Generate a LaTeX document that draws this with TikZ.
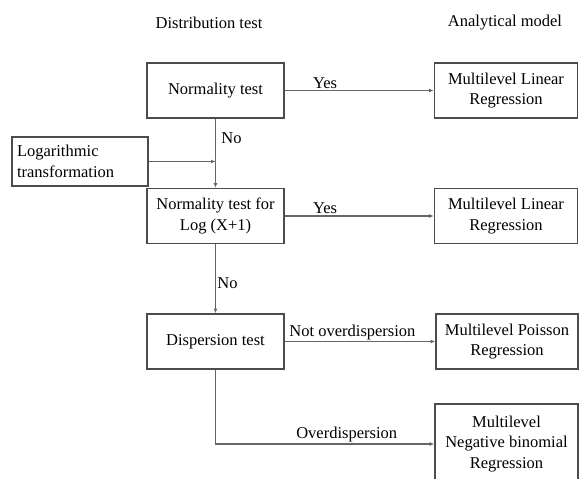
\documentclass[tikz,border=0pt]{standalone}
\usepackage{fontspec}
\setmainfont{Liberation Serif}
\usetikzlibrary{arrows.meta}
\begin{document}
\begin{tikzpicture}[x=1pt,y=-1pt,
	every node/.style={font=\fontsize{16.5}{20.5}\selectfont},
	box/.style={draw=black!70,line width=1.6pt,align=center,inner sep=2pt},
	testbox/.style={box,minimum width=137pt,minimum height=55pt},
	modelbox/.style={box,minimum width=143pt,minimum height=55pt},
	conn/.style={draw=black!60,line width=1.8pt,-{Latex[length=4.5pt,width=4pt]}},
	lbl/.style={inner sep=1pt}]
		%
		\useasboundingbox (0,0) rectangle (579,479);
		%
		\node (hdist) at (209,23) {Distribution test};
		\node (hmod) at (505,23) {Analytical model};
		%
		\node[testbox] (norm) at (215.5,90.5) {Normality test};
		\node[testbox] (lognorm) at (215.5,216) {Normality test for\\Log (X+1)};
		\node[testbox] (disp) at (215.5,341.5) {Dispersion test};
		\node[box,align=left,minimum width=136pt,minimum height=49pt,text width=126pt] (logt) at (80,161.5) {Logarithmic\\transformation};
		%
		\node[modelbox] (lin1) at (506,90.5) {Multilevel Linear\\Regression};
		\node[modelbox] (lin2) at (506,216) {Multilevel Linear\\Regression};
		\node[modelbox,minimum width=142pt] (pois) at (507,341.5) {Multilevel Poisson\\Regression};
		\node[modelbox,minimum height=80pt] (negb) at (506.5,444) {Multilevel\\Negative binomial\\Regression};
		%
		\coordinate (join) at (norm.south |- logt.east);
		%
		\draw[conn] (norm) -- node[lbl,pos=.27,above] {Yes} (lin1);
		\draw[conn] (lognorm) -- node[lbl,pos=.27,above] {Yes} (lin2);
		\draw[conn] (disp) -- node[lbl,pos=.45,above] {Not overdispersion} (pois);
		\draw[conn] (disp.south) |- node[lbl,pos=.8,above] {Overdispersion} (negb.west);
		\draw[conn] (norm) -- node[lbl,pos=.28,right,xshift=4pt] {No} (lognorm);
		\draw[conn] (logt.east |- join) -- (join);
		\draw[conn] (lognorm) -- node[lbl,pos=.57,right] {No} (disp);
		%
\end{tikzpicture}
\end{document}
